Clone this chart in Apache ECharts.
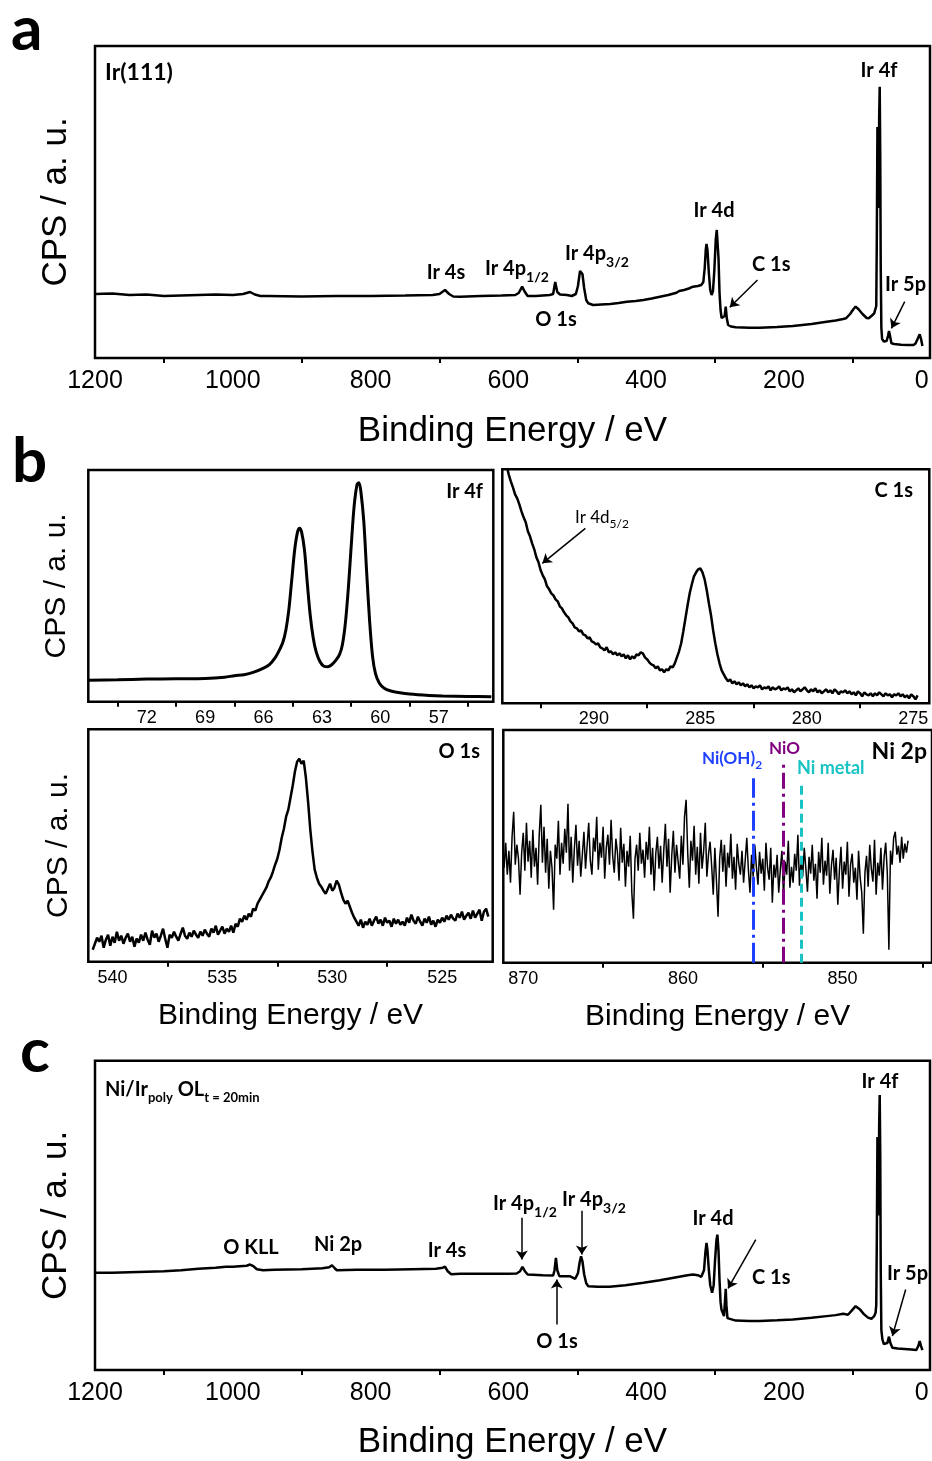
<!DOCTYPE html>
<html>
<head>
<meta charset="utf-8">
<script src="https://cdn.jsdelivr.net/npm/echarts@6/dist/echarts.min.js"></script>
<style>
html,body{margin:0;padding:0;background:#fff;}
#chart{width:932px;height:1461px;}
</style>
</head>
<body>
<div id="chart"></div>
<script>
// ---------------- DATA ----------------
// Panel a: survey of Ir(111)  [binding energy eV, intensity a.u.]
const surveyA = [[1200,64],[1175,64.5],[1150,63],[1125,63.5],[1100,62],[1075,62.5],[1050,63],[1025,63.5],[1000,63],[985,64],[975,66],[968,63.5],[960,62],[950,62],[900,61.5],[850,62],[800,62],[750,62.5],[710,63],[700,64],[692,68],[686,64],[680,61.5],[670,61.3],[640,62],[610,62.5],[590,63],[585,65],[580,71.3],[576,66],[572,62],[560,62],[540,63],[535,64],[532,76],[531,76],[529,66],[525,63.5],[515,63],[508,62],[502,64],[499,72],[496,87],[494.5,88.7],[492.5,84],[490,70],[487,58],[484,54.7],[477,53],[465,53.5],[452,54],[440,55],[428,56.3],[415,57],[404,58],[392,59.5],[380,61.3],[368,63],[356,65.3],[352,67],[345,68],[338,69.5],[332,71.3],[325,72],[320,73],[317,76],[315,90],[313.5,108],[312.4,114],[311,108],[309,85],[307,68],[305,63],[303,67],[301,88],[299,118],[297.5,128],[296.3,126],[295,100],[293.5,65],[292,48],[290.5,40],[288,38],[286,42],[284.5,51.3],[283,40],[281,33],[277,31.5],[270,30.7],[250,30.3],[235,30.3],[210,31],[187,32],[160,34],[138,36.3],[125,37.5],[114,39],[110,39.7],[104,44],[99,49],[96,51.3],[92,49],[86,44],[80,40],[77,39.7],[73,42],[69,44.7],[67,46],[66,52],[65.2,120],[64.3,231],[63.4,170],[62.6,150],[61.8,240],[61,271.3],[60.2,200],[59.5,90],[58.6,30],[57.5,19],[55,16.5],[51,17],[49,22],[47.5,27],[46,22],[44,14.7],[40,14],[30,13.3],[20,13],[12,13],[9,14.5],[6,19],[3,23.7],[1,19],[-1,12]];

// Panel c: survey of Ni/Ir_poly OL
const surveyC = [[1200,97.4],[1175,97.5],[1150,98],[1125,98.5],[1100,99],[1075,100],[1050,101.4],[1025,102.5],[1010,103.5],[1000,103.4],[990,104],[980,104.5],[975,105.7],[970,104],[965,101],[956,100],[940,100.5],[900,101],[870,102],[860,103],[856,105],[852,102],[849,100],[820,100.4],[780,100.5],[740,101],[705,101.4],[695,102.5],[692,103.5],[688,99],[683,96],[670,96.4],[640,96.5],[600,96.5],[588,96.7],[583,99],[579.5,103.4],[576,99],[572,95.7],[550,95],[535,94.7],[533,100],[531,112.4],[529,100],[526,94],[511,94],[503,91.4],[499,97],[496.5,108],[494.5,114],[492.5,109],[490,96],[487,87],[484,84],[470,83.4],[453,83.4],[430,85],[404,87.4],[380,90],[356,93],[340,95],[332,95.7],[325,95],[320,93.4],[316,100],[314,118],[312.4,127.4],[311,120],[309,100],[307,85],[304.3,77.4],[302,85],[300,110],[298,130],[296.6,135.7],[295,120],[293.5,90],[292,68],[290.7,60.7],[287,54],[285.5,70],[284.5,81.4],[283.5,65],[282,52],[281,50.7],[270,49.5],[250,49],[235,49],[210,49.8],[187,50.7],[160,52.3],[138,54],[125,55],[114,56.4],[107,55.4],[101,60],[96,64],[90,61],[84,56],[78,52.5],[73,51.4],[69,54],[67,57.4],[66,65],[65.2,130],[64.3,233.4],[63.4,175],[62.6,155],[61.8,245],[61,275.7],[60.2,215],[59.5,100],[58.6,40],[57.1,30.7],[55,26],[52.3,24],[50,27],[47.5,33.4],[45.5,27],[42.6,22.4],[35,21.5],[25,21],[15,20.5],[7.8,20],[5,24],[3,29],[1,24],[-1,20]];

// Panel b: Ir 4f high resolution
const ir4f = [[75.0,21.5],[73.5,22],[72,22.6],[70.5,23],[69,23.3],[68,24.5],[67.5,26],[67,27],[66.5,29.5],[66.0,33.5],[65.7,37],[65.4,44],[65.2,51],[65.0,60],[64.85,72],[64.7,92],[64.55,122],[64.4,152],[64.25,170],[64.15,173.5],[64.05,170],[63.9,152],[63.75,118],[63.6,86],[63.45,64],[63.3,50],[63.1,40],[62.9,35.5],[62.7,35],[62.5,37],[62.3,41],[62.1,47],[61.95,57],[61.8,78],[61.65,112],[61.5,155],[61.35,195],[61.2,217],[61.1,219],[61.0,210],[60.85,180],[60.7,128],[60.55,80],[60.4,45],[60.25,28],[60.05,18.5],[59.8,13.5],[59.5,11],[59,9],[58.5,7.7],[57.5,6.3],[56.8,5.7],[55.5,5.2],[54.3,5]];

// Panel b: C 1s, 0.1 eV steps starting at 294.2 eV going down
const c1sStart = 294.2, c1sStep = 0.1;
const c1sVals = [245,238,229,222,216,209,205,199,192,186,181,172,167,160,154,146,141,133,128,124,117,114,110,108,104,102,97,95,91,88,86,82,80,76,75,72,73,69,68,65,66,62,61,59,60,56,55,53,56,51,52,49,51,48,50,47,49,45,48,44,47,45,49,48,51,50,46,44,41,39,38,35,37,33,34,31,34,33,37,36,40,46,52,60,72,85,98,110,119,127,131,134,135,131,124,113,100,88,73,60,49,40,33,29,25,22,24,20,22,19,21,18,20,17,19,16,18,15,17,16,18,14,16,15,17,13,16,14,15,17,13,15,14,16,12,14,11,13,15,12,14,16,13,11,14,12,15,11,13,10,12,14,11,13,10,14,12,9,12,11,13,10,12,9,11,8,12,10,7,11,9,8,10,7,10,8,11,9,7,10,8,9,6,9,8,10,7,9,6,8,5,9,7,4,8];

// Panel b: O 1s, 0.1 eV steps starting at 540.9 eV going down
const o1sStart = 540.9, o1sStep = 0.1;
const o1sVals = [12,18,24,20,26,14,22,27,16,25,19,30,21,26,18,24,28,20,25,15,23,19,27,21,29,22,17,31,24,28,20,26,33,23,14,27,24,30,25,21,28,34,26,23,29,25,31,27,24,30,26,32,28,25,33,29,36,27,31,35,28,33,30,36,29,38,35,43,40,46,42,48,45,53,51,58,62,66,70,74,80,84,90,97,103,112,124,133,145,152,164,176,190,200,203,198,201,184,160,132,110,92,84,78,75,71,68,73,78,71,74,81,77,69,62,58,61,55,49,44,40,36,42,34,40,37,43,36,41,45,38,42,36,44,39,41,35,43,38,42,37,40,36,44,39,47,41,38,45,40,36,43,39,45,37,41,35,42,39,44,40,46,42,47,43,41,48,44,50,42,46,49,43,51,44,48,52,41,50,53,45];

// Panel b: Ni 2p, 0.1 eV steps starting at 871.2 eV going down
const niStart = 871.2, niStep = 0.1;
const niVals = [95,120,88,112,80,126,151,98,118,104,68,110,130,92,140,101,122,85,133,96,115,78,128,158,100,136,90,124,74,112,95,53,118,104,142,88,120,99,134,110,159,92,126,80,114,138,97,122,86,108,131,94,117,140,102,88,125,111,146,93,120,105,136,84,115,128,98,143,107,90,124,110,82,135,100,119,76,112,96,127,70,44,104,118,92,130,99,113,85,121,103,136,88,115,72,109,126,94,117,80,112,139,96,124,70,107,132,90,118,101,84,127,98,146,163,110,75,122,102,137,88,116,79,130,94,112,140,86,108,121,97,68,115,82,46,104,123,91,118,76,110,95,129,84,106,73,119,99,88,112,80,102,125,93,70,108,86,118,96,78,111,89,104,72,120,95,83,115,60,98,85,108,70,93,112,66,101,88,122,75,96,80,109,92,128,77,103,86,115,94,71,106,89,118,82,99,64,111,90,125,78,102,87,120,69,97,113,83,105,58,92,116,74,101,88,121,66,98,109,80,95,63,112,85,70,29,90,107,76,118,94,81,123,68,100,87,115,73,105,120,90,13,112,98,125,131,108,117,100,126,104,119,110,122];

// Reference binding energies for Ni species (eV)
const niRefs = [
  {name:'Ni(OH)2', energy:855.6, top:184.4},
  {name:'NiO', energy:853.7, top:199.7},
  {name:'Ni metal', energy:852.6, top:181}
];

// Tick values / labels
const surveyTicks = [100,300,500,700,900,1100];
const surveyLabels = [0,200,400,600,800,1000,1200];
const ir4fTicks = [55.5,58.5,61.5,64.5,67.5,70.5,73.5];
const ir4fLabels = [57,60,63,66,69,72];
const c1sTicks = [277.5,282.5,287.5,292.5];
const c1sLabels = [275,280,285,290];
const o1sTicks = [527.5,532.5,537.5];
const o1sLabels = [525,530,535,540];
const niTicks = [845,855,865];
const niLabels = [850,860,870];

// Arrow annotations [from, to] in data units
const aArrows = [[[238.4,78],[278.6,50.7]],[[24.7,56.3],[44,29.7]]];
const cArrows = [[[580.4,152.7],[580.4,110.7]],[[493.4,159.7],[493.4,115.7]],[[529.7,45.7],[529.7,90.7]],[[240.9,130.7],[281.1,81.7]],[[23.3,80.7],[42.6,34]]];
const c1sArrows = [[[290.4,175],[292.42,140]]];

// ---------------- BUILD ----------------
const seq = (start, step, vals) => vals.map((v,i)=>[+(start - i*step).toFixed(3), v]);
const AX_FONT = 'Liberation Sans';
const LB_FONT = 'Lato';

function grid(l,t,w,h){return {left:l,top:t,width:w,height:h,show:true,borderColor:'#000',borderWidth:2.5,backgroundColor:'transparent'};}
function xAx(gi,min,max,ticks,labels,fs,margin,name,nameGap){
  return {type:'value',gridIndex:gi,inverse:true,min:min,max:max,
    axisLine:{show:false},splitLine:{show:false},
    axisTick:{show:true,inside:false,length:5,customValues:ticks,lineStyle:{color:'#000',width:2}},
    axisLabel:{show:true,customValues:labels,formatter:v=>String(v),fontFamily:AX_FONT,fontSize:fs,color:'#000',margin:margin,showMinLabel:true,showMaxLabel:true},
    name:name||'',nameLocation:'middle',nameGap:nameGap||0,
    nameTextStyle:{fontFamily:AX_FONT,fontSize:name?(fs>20?35:30):12,color:'#000'}};
}
function yAx(gi,max,name,fs,gap){
  return {type:'value',gridIndex:gi,min:0,max:max,axisLine:{show:false},axisTick:{show:false},axisLabel:{show:false},splitLine:{show:false},
    name:name||'',nameLocation:'middle',nameGap:gap||0,nameTextStyle:{fontFamily:AX_FONT,fontSize:fs||12,color:'#000'}};
}
function arrowML(list){
  return {silent:true,symbol:['none','arrow'],symbolSize:9,label:{show:false},
    lineStyle:{color:'#000',width:1.5,type:'solid'},
    data:list.map(p=>[{coord:p[0]},{coord:p[1]}])};
}
function line(gi,data,w,extra){
  return Object.assign({type:'line',xAxisIndex:gi,yAxisIndex:gi,data:data,showSymbol:false,symbol:'none',clip:true,
    lineStyle:{color:'#000',width:w},animation:false,silent:true},extra||{});
}

const refStyles = [
  {color:'#2040ff',type:[20,5,3,5]},
  {color:'#800080',type:[16,5,3,5]},
  {color:'#19c3c3',type:[9,5]}
];
const niML = {silent:true,symbol:['none','none'],label:{show:false},
  data:niRefs.map((r,i)=>[{coord:[r.energy,0],lineStyle:{color:refStyles[i].color,type:refStyles[i].type,width:3}},{coord:[r.energy,r.top]}])};

function T(x,y,text,o){
  o=o||{};
  const col=o.color||'#000', fw=o.weight||'bold', fs=o.size||20;
  return {type:'text',x:x,y:y,z:100,silent:true,style:{text:text,fill:col,fontFamily:LB_FONT,fontWeight:fw,fontSize:fs,
    align:o.align||'left',verticalAlign:'middle',
    rich:{s:{fontFamily:LB_FONT,fontWeight:fw,fontSize:o.sub||14,fill:col,padding:[o.pad||16,0,0,0]}}}};
}

const option = {
  animation:false,
  backgroundColor:'#fff',
  grid:[
    grid(95,46,835,312),
    grid(88.3,470,405,231.7),
    grid(502.3,469.3,427,234),
    grid(88.3,729.3,404.4,232.4),
    grid(503.3,730,428.7,232.7),
    grid(95,1060.7,835,310)
  ],
  xAxis:[
    xAx(0,-12,1200,surveyTicks,surveyLabels,25,11,'Binding Energy / eV',56),
    xAx(1,54.2,75,ir4fTicks,ir4fLabels,18,7),
    xAx(2,274.25,294.3,c1sTicks,c1sLabels,18,7),
    xAx(3,522.7,541.1,o1sTicks,o1sLabels,18,7,'Binding Energy / eV',39),
    xAx(4,844.4,871.25,niTicks,niLabels,18,7,'Binding Energy / eV',39),
    xAx(5,-12,1200,surveyTicks,surveyLabels,25,11,'Binding Energy / eV',55)
  ],
  yAxis:[
    yAx(0,312,'CPS / a. u.',35,21),
    yAx(1,231.7,'CPS / a. u.',30,17),
    yAx(2,234),
    yAx(3,232.4,'CPS / a. u.',30,15),
    yAx(4,232.7),
    yAx(5,310,'CPS / a. u.',35,21)
  ],
  series:[
    line(0,surveyA,2.5,{markLine:arrowML(aArrows)}),
    line(1,ir4f,3,{smooth:0.3}),
    line(2,seq(c1sStart,c1sStep,c1sVals),2.5,{markLine:arrowML(c1sArrows)}),
    line(3,seq(o1sStart,o1sStep,o1sVals),2.5),
    line(4,seq(niStart,niStep,niVals),1.5,{markLine:niML}),
    line(5,surveyC,2.5,{markLine:arrowML(cArrows)})
  ],
  graphic:[
    // panel letters
    T(11,30,'a',{size:62}),
    T(12,462,'b',{size:62}),
    T(20,1052,'c',{size:62}),
    // panel a
    T(105,73,'Ir(111)',{size:23}),
    T(446,273,'Ir 4s',{align:'center'}),
    T(485,269,'Ir 4p{s|1/2}'),
    T(556,320,'O 1s',{align:'center'}),
    T(565,254,'Ir 4p{s|3/2}'),
    T(714,211,'Ir 4d',{align:'center'}),
    T(752,265,'C 1s'),
    T(879,71,'Ir 4f',{align:'center'}),
    T(885,285,'Ir 5p'),
    // panel b
    T(483,492,'Ir 4f',{align:'right'}),
    T(913,491,'C 1s',{align:'right'}),
    T(575,518,'Ir 4d{s|5/2}',{weight:'normal',size:17,sub:12,pad:12}),
    T(480,752,'O 1s',{align:'right'}),
    T(927,752,'Ni 2p',{align:'right',size:23}),
    T(702,759,'Ni(OH){s|2}',{color:'#2040ff',size:17,sub:12,pad:12}),
    T(769,749,'NiO',{color:'#800080',size:17}),
    T(797,768,'Ni metal',{color:'#19c3c3',size:18}),
    // panel c
    T(105,1090,'Ni/Ir{s|poly} OL{s|t = 20min}',{size:20,sub:13,pad:16}),
    T(251,1248,'O KLL',{align:'center'}),
    T(338,1245,'Ni 2p',{align:'center'}),
    T(447,1251,'Ir 4s',{align:'center'}),
    T(493,1204,'Ir 4p{s|1/2}'),
    T(562,1200,'Ir 4p{s|3/2}'),
    T(557,1342,'O 1s',{align:'center'}),
    T(713,1219,'Ir 4d',{align:'center'}),
    T(752,1278,'C 1s'),
    T(880,1082,'Ir 4f',{align:'center'}),
    T(887,1274,'Ir 5p')
  ]
};

const chart = echarts.init(document.getElementById('chart'),null,{renderer:'canvas',width:932,height:1461});
chart.setOption(option);
</script>
</body>
</html>
